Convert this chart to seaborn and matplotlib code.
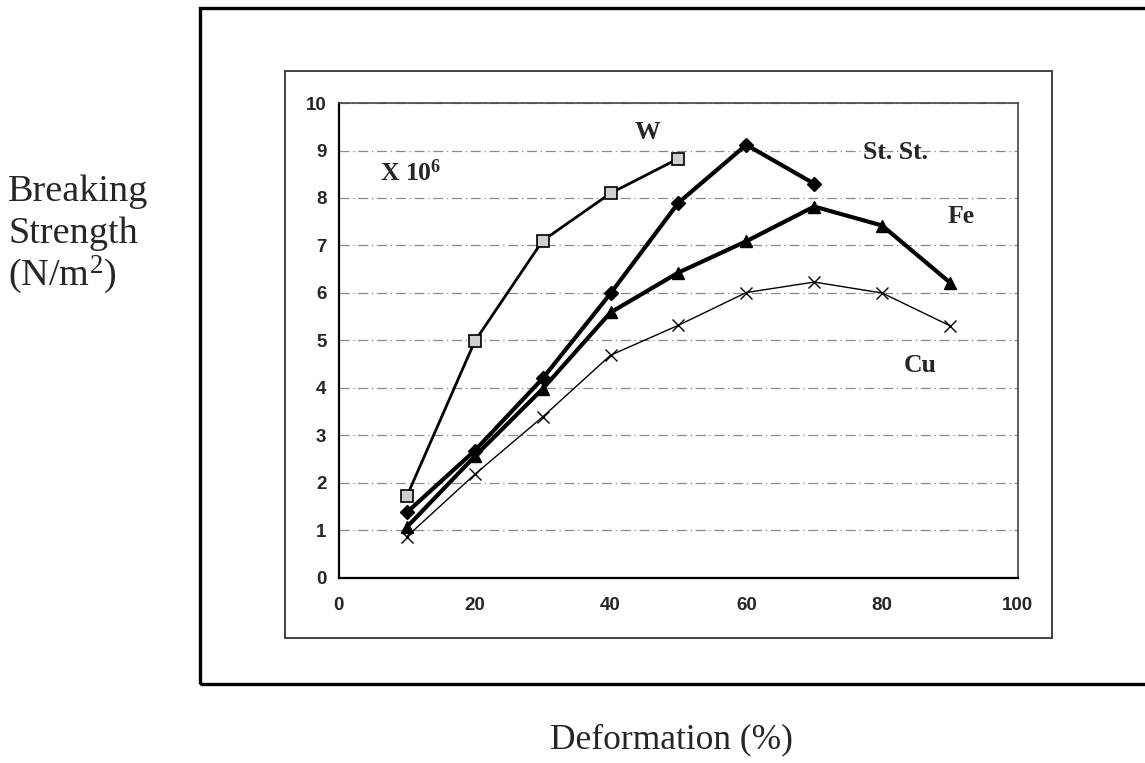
import matplotlib
matplotlib.use("Agg")
import matplotlib.pyplot as plt
from matplotlib.patches import Rectangle
import seaborn as sns
import pandas as pd

# ---- data ----
deformation = [10, 20, 30, 40, 50, 60, 70, 80, 90]
w_values = [1.72, 4.98, 7.10, 8.10, 8.83]
ss_values = [1.38, 2.68, 4.20, 5.99, 7.90, 9.12, 8.30]
fe_values = [1.07, 2.56, 3.98, 5.59, 6.43, 7.09, 7.82, 7.42, 6.22]
cu_values = [0.87, 2.18, 3.39, 4.69, 5.32, 6.01, 6.23, 6.00, 5.31]
x_ticks = [0, 20, 40, 60, 80, 100]
y_ticks = [0, 1, 2, 3, 4, 5, 6, 7, 8, 9, 10]

series = {
    "W": w_values,
    "St. St.": ss_values,
    "Fe": fe_values,
    "Cu": cu_values,
}
rows = []
for name, vals in series.items():
    for x, v in zip(deformation, vals):
        rows.append({"metal": name, "deformation": x, "strength": v})
df = pd.DataFrame(rows)

sns.set_style("white")
plt.rcParams["font.family"] = ["Liberation Sans", "DejaVu Sans"]
plt.rcParams["mathtext.fontset"] = "custom"
plt.rcParams["mathtext.rm"] = "Liberation Serif"
plt.rcParams["mathtext.it"] = "Liberation Serif:italic"
plt.rcParams["mathtext.bf"] = "Liberation Serif:bold"

fig = plt.figure(figsize=(11.45, 7.63), dpi=100)
ax = fig.add_axes([0.296, 0.2425, 0.593, 0.6225])

styles = {
    "W": dict(marker="s", lw=2.0, ms=8, mfc="#d0d0d0", mec="black", mew=1.2),
    "St. St.": dict(marker="D", lw=3.0, ms=7, mfc="black", mec="black", mew=1),
    "Fe": dict(marker="^", lw=3.0, ms=8, mfc="black", mec="black", mew=1),
    "Cu": dict(marker="x", lw=1.0, ms=9, mfc="black", mec="black", mew=1.0),
}
for name in series:
    st = styles[name]
    sub = df[df["metal"] == name]
    sns.lineplot(data=sub, x="deformation", y="strength", ax=ax, color="black",
                 marker=st["marker"], linewidth=st["lw"], markersize=st["ms"],
                 markerfacecolor=st["mfc"], markeredgecolor=st["mec"],
                 markeredgewidth=st["mew"], legend=False, zorder=3)

ax.set_xlim(0, 100)
ax.set_ylim(0, 10)
ax.set_xticks(x_ticks)
ax.set_yticks(y_ticks)
ax.set_xticklabels([str(t) for t in x_ticks], fontsize=13.5, fontweight="bold")
ax.set_yticklabels([str(t) for t in y_ticks], fontsize=13.5, fontweight="bold")
ax.tick_params(axis="both", length=0)
ax.tick_params(axis="x", pad=14)
ax.tick_params(axis="y", pad=9)
ax.set_xlabel("")
ax.set_ylabel("")
ax.yaxis.grid(True, color="#8a8a8a", linestyle=(0, (8, 3, 1, 3)), linewidth=0.9)
ax.xaxis.grid(False)
ax.set_axisbelow(True)
for side in ["left", "bottom"]:
    ax.spines[side].set_color("black")
    ax.spines[side].set_linewidth(1.6)
for side in ["top", "right"]:
    ax.spines[side].set_color("#444444")
    ax.spines[side].set_linewidth(1.2)

# in-plot labels
serif = ["Liberation Serif", "DejaVu Serif"]
fs = 18.5
ax.text(45.4, 9.37, "W", fontsize=fs, fontweight="bold", family=serif,
        ha="center", va="center")
ax.text(6.0, 8.53, "X 10$^{\\mathbf{6}}$", fontsize=fs, fontweight="bold", family=serif,
        ha="left", va="center")
ax.text(82.0, 8.95, "St. St.", fontsize=fs, fontweight="bold", family=serif,
        ha="center", va="center")
ax.text(91.6, 7.6, "Fe", fontsize=fs, fontweight="bold", family=serif,
        ha="center", va="center")
ax.text(85.6, 4.48, "Cu", fontsize=fs, fontweight="bold", family=serif,
        ha="center", va="center")

# inner chart frame
fig.patches.append(Rectangle((0.249, 0.164), 0.670, 0.743, transform=fig.transFigure,
                             fill=False, edgecolor="#333333", linewidth=1.3))
# outer thick frame (extends past right edge)
fig.patches.append(Rectangle((0.1747, 0.1035), 0.9, 0.886, transform=fig.transFigure,
                             fill=False, edgecolor="black", linewidth=2.4))

# outer axis titles
for label, ybase in [("Breaking", 0.737), ("Strength", 0.6815), ("(N/m$^{2}$)", 0.6265)]:
    fig.text(0.007, ybase, label, fontsize=27.5, family=serif,
             ha="left", va="baseline")
fig.text(0.586, 0.019, "Deformation (%)", fontsize=25.5, family=serif,
         ha="center", va="baseline")

fig.savefig("out.png", dpi=100)
